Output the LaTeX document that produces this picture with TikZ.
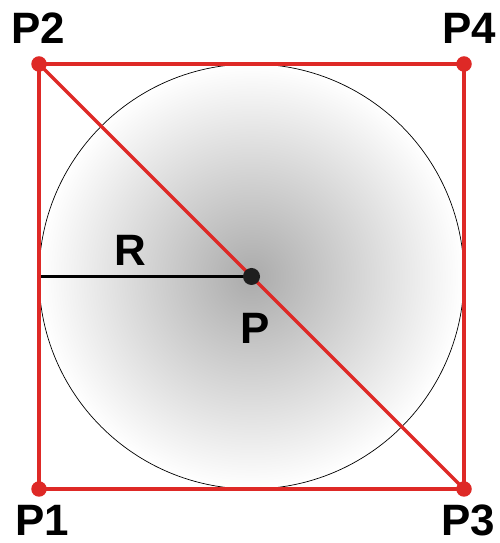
\documentclass[tikz,border=0pt]{standalone}
\usepackage{fontspec}
\setmainfont{Liberation Sans}
\usetikzlibrary{positioning}
\definecolor{edgeR}{RGB}{222,41,38}
\definecolor{dotK}{RGB}{30,30,30}

\begin{document}
\begin{tikzpicture}[font=\bfseries\fontsize{25}{28}\selectfont,
  corner/.style={circle, fill=edgeR, inner sep=0pt, minimum size=3.1mm},
  centre/.style={circle, fill=dotK, inner sep=0pt, minimum size=3.4mm},
  redline/.style={draw=edgeR, line width=1.9pt},
  lbl/.style={inner sep=0pt}]
  \useasboundingbox (0,0) rectangle (10,10.86);
  % ball with shading
  \shade[inner color=gray!66, outer color=white, draw=black, line width=0.4pt]
    (5.03,5.33) circle (4.25);
  \coordinate (L) at (0.78,5.33);
  % corners and centre
  \node[corner] (P1) at (0.78,1.08) {};
  \node[corner] (P2) at (0.78,9.58) {};
  \node[corner] (P3) at (9.28,1.08) {};
  \node[corner] (P4) at (9.28,9.58) {};
  \draw[black, line width=1.7pt] (L) -- (5.03,5.33);
  \draw[redline] (P1.center) -- (P2.center) -- (P4.center) -- (P3.center) -- cycle;
  \draw[redline] (P2.center) -- (P3.center);
  \node[centre] (P) at (5.03,5.33) {};
  % labels
  \node[lbl] (tP2) at (0.76,10.3) {P2};
  \node[lbl] (tP4) at (9.38,10.3) {P4};
  \node[lbl] (tP1) at (0.84,0.46) {P1};
  \node[lbl] (tP3) at (9.36,0.46) {P3};
  \node[lbl] (tR) at (2.6,5.85) {R};
  \node[lbl] (tP) at (5.1,4.3) {P};
\end{tikzpicture}
\end{document}
